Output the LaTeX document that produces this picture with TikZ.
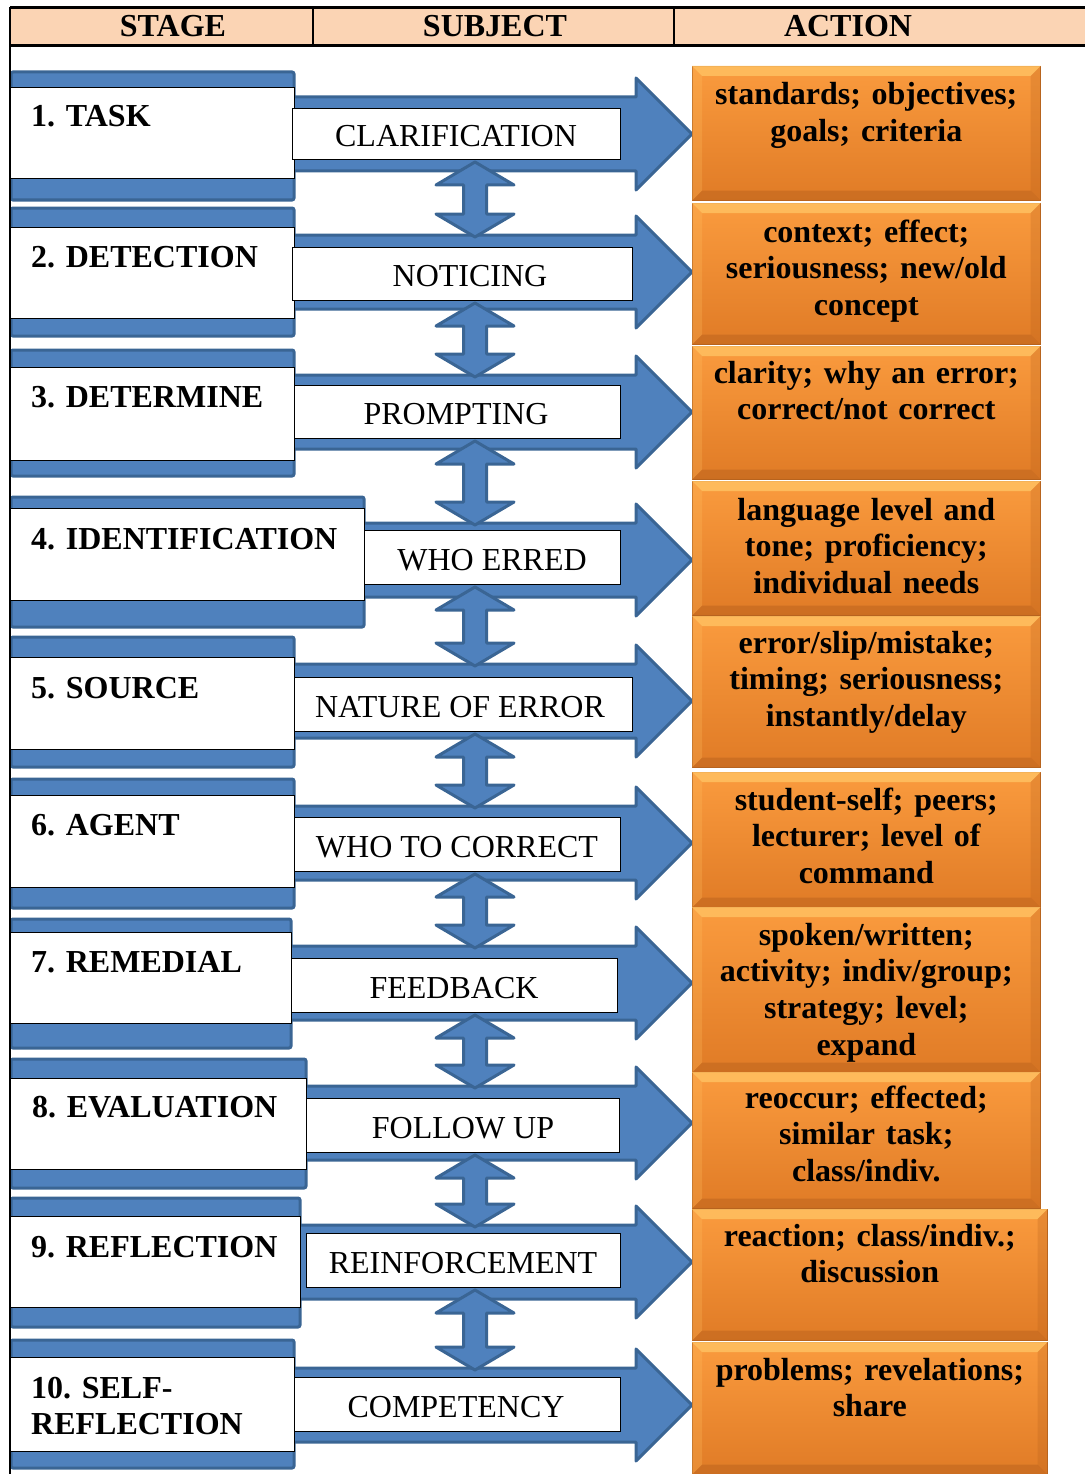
\documentclass[tikz,border=0pt]{standalone}
\usepackage{fontspec}
\setmainfont{Liberation Serif}
\frenchspacing
\definecolor{myblue}{HTML}{4F81BD}
\definecolor{bluedark}{HTML}{3A6594}
\definecolor{peach}{HTML}{FBD4B4}
\definecolor{orgtop}{HTML}{FA9B3E}
\definecolor{orgbot}{HTML}{E07B26}
\definecolor{orglight}{HTML}{FFC061}
\definecolor{orgdark}{HTML}{B5601C}
\definecolor{orgedge}{HTML}{B8651F}
\tikzset{
  bluebar/.style={fill=myblue, draw=bluedark, line width=3pt, rounded corners=2pt},
  bigarrow/.style={fill=myblue, draw=bluedark, line width=3pt, line join=round},
  stagebox/.style={fill=white, draw=black, line width=1pt, inner sep=0pt, anchor=north west},
  subjbox/.style={fill=white, draw=black, line width=1pt, inner sep=0pt, anchor=north west},
  actbox/.style={top color=orgtop, bottom color=orgbot, draw=orgedge, line width=0.6pt, inner sep=0pt, anchor=north west},
  stagetext/.style={font=\bfseries\fontsize{32}{36}\selectfont\frenchspacing, anchor=base west, inner sep=0pt, text width=330pt, align=left},
  subjtext/.style={font=\fontsize{32}{36}\selectfont, anchor=base, inner sep=0pt},
  acttext/.style={font=\bfseries\fontsize{32}{36.7}\selectfont\frenchspacing, anchor=base, inner sep=0pt, text width=345pt, align=center},
  hdrtext/.style={font=\bfseries\fontsize{32}{36}\selectfont, anchor=base, inner sep=0pt},
}
\begin{document}
\begin{tikzpicture}[x=1pt,y=-1pt]
\useasboundingbox (0,0) rectangle (1085,1474);
% header
\fill[peach] (10,8) rectangle (1085,46);
\draw[line width=3pt] (10,8) -- (1085,8);
\draw[line width=3pt] (10,46) -- (1085,46);
\draw[line width=1.5pt] (313,8) -- (313,46);
\draw[line width=1.5pt] (674,8) -- (674,46);
\node[hdrtext] (h1) at (173,37) {STAGE};
\node[hdrtext] (h2) at (495,37) {SUBJECT};
\node[hdrtext] (h3) at (848,37) {ACTION};
% blue bars and arrows
\foreach \i/\xr/\wt/\wb/\bt/\bb/\c/\jl/\jr/\jt/\jb/\ot/\ob/\orr in {
1/294/87/178/72/200/134/292/620/108/159/66/200/1040,
2/294/227/318/208/336/272/292/632/247/300/203/344/1040,
3/294/367/460/350/476/412/294/620/385/438/346/479/1040,
4/364/508/600/497/627/560/364/620/530/584/481/615/1040,
5/294/657/749/637/767/701/294/632/677/731/616/767/1040,
6/294/795/887/779/908/843/294/620/817/871/772/907/1040,
7/291/932/1023/919/1048/983/291/617/958/1012/907/1072/1040,
8/306/1078/1169/1059/1188/1123/306/619/1098/1152/1072/1208/1040,
9/300/1216/1307/1198/1327/1262/306/620/1233/1287/1209/1340/1047,
10/294/1357/1451/1340/1468/1405/294/620/1377/1431/1342/1474/1047}{
  \draw[bluebar] (11,\bt) rectangle (\xr,\bb);
  \draw[bigarrow] ({\xr-12},{\c-37}) -- (636,{\c-37}) -- (636,{\c-56}) -- (692,\c) -- (636,{\c+56}) -- (636,{\c+37}) -- ({\xr-12},{\c+37}) -- cycle;
}
% double arrows
\foreach \k/\t/\b in {1/162/237, 2/303/377, 3/441/525, 4/587/666, 5/734/808, 6/874/948, 7/1015/1088, 8/1155/1227, 9/1290/1370}{
  \draw[bigarrow] (475,\t) -- (514,{\t+23}) -- (486.5,{\t+23}) -- (486.5,{\b-23}) -- (514,{\b-23}) -- (475,\b) -- (436,{\b-23}) -- (463.5,{\b-23}) -- (463.5,{\t+23}) -- (436,{\t+23}) -- cycle;
}
% boxes
\foreach \i/\xr/\wt/\wb/\bt/\bb/\c/\jl/\jr/\jt/\jb/\ot/\ob/\orr in {
1/294/87/178/72/200/134/292/620/108/159/66/200/1040,
2/294/227/318/208/336/272/292/632/247/300/203/344/1040,
3/294/367/460/350/476/412/294/620/385/438/346/479/1040,
4/364/508/600/497/627/560/364/620/530/584/481/615/1040,
5/294/657/749/637/767/701/294/632/677/731/616/767/1040,
6/294/795/887/779/908/843/294/620/817/871/772/907/1040,
7/291/932/1023/919/1048/983/291/617/958/1012/907/1072/1040,
8/306/1078/1169/1059/1188/1123/306/619/1098/1152/1072/1208/1040,
9/300/1216/1307/1198/1327/1262/306/620/1233/1287/1209/1340/1047,
10/294/1357/1451/1340/1468/1405/294/620/1377/1431/1342/1474/1047}{
  \node[stagebox, minimum width={(\xr-10)*1pt}, minimum height={(\wb-\wt)*1pt}] (s\i) at (10,\wt) {};
  \node[subjbox, minimum width={(\jr-\jl)*1pt}, minimum height={(\jb-\jt)*1pt}] (j\i) at (\jl,\jt) {};
  \node[actbox, minimum width={(\orr-692)*1pt}, minimum height={(\ob-\ot)*1pt}] (a\i) at (692,\ot) {};
  \fill[orglight, opacity=0.85] (a\i.north west) -- (a\i.north east) -- ([xshift=-10pt,yshift=-10pt]a\i.north east) -- ([xshift=10pt,yshift=-10pt]a\i.north west) -- cycle;
  \fill[orgdark, opacity=0.45] (a\i.south west) -- (a\i.south east) -- ([xshift=-10pt,yshift=10pt]a\i.south east) -- ([xshift=10pt,yshift=10pt]a\i.south west) -- cycle;
  \fill[orgdark, opacity=0.25] (a\i.north east) -- (a\i.south east) -- ([xshift=-10pt,yshift=10pt]a\i.south east) -- ([xshift=-10pt,yshift=-10pt]a\i.north east) -- cycle;
  \fill[orglight, opacity=0.25] (a\i.north west) -- (a\i.south west) -- ([xshift=10pt,yshift=10pt]a\i.south west) -- ([xshift=10pt,yshift=-10pt]a\i.north west) -- cycle;
}
% stage texts
\node[stagetext] (t1) at ([xshift=21pt,yshift=-40pt]s1.north west) {1. TASK};
\node[stagetext] (t2) at ([xshift=21pt,yshift=-40pt]s2.north west) {2. DETECTION};
\node[stagetext] (t3) at ([xshift=21pt,yshift=-40pt]s3.north west) {3. DETERMINE};
\node[stagetext] (t4) at ([xshift=21pt,yshift=-41pt]s4.north west) {4. IDENTIFICATION};
\node[stagetext] (t5) at ([xshift=21pt,yshift=-41pt]s5.north west) {5. SOURCE};
\node[stagetext] (t6) at ([xshift=21pt,yshift=-40pt]s6.north west) {6. AGENT};
\node[stagetext] (t7) at ([xshift=21pt,yshift=-40pt]s7.north west) {7. REMEDIAL};
\node[stagetext] (t8) at ([xshift=22pt,yshift=-39pt]s8.north west) {8. EVALUATION};
\node[stagetext] (t9) at ([xshift=21pt,yshift=-41pt]s9.north west) {9. REFLECTION};
\node[stagetext] (t10) at ([xshift=21pt,yshift=-41pt]s10.north west) {10. SELF-\\REFLECTION};
% subject texts
\node[subjtext] (u1) at (456,147) {CLARIFICATION};
\node[subjtext] (u2) at (470,286) {NOTICING};
\node[subjtext] (u3) at (456,424) {PROMPTING};
\node[subjtext] (u4) at (492,570) {WHO ERRED};
\node[subjtext] (u5) at (460,717) {NATURE OF ERROR};
\node[subjtext] (u6) at (457,857) {WHO TO CORRECT};
\node[subjtext] (u7) at (454,998) {FEEDBACK};
\node[subjtext] (u8) at (463,1138) {FOLLOW UP};
\node[subjtext] (u9) at (463,1273) {REINFORCEMENT};
\node[subjtext] (u10) at (456,1417) {COMPETENCY};
% action texts
\node[acttext] (x1) at ([yshift=-39pt]a1.north) {standards; objectives;\\goals; criteria};
\node[acttext] (x2) at ([yshift=-39pt]a2.north) {context; effect;\\seriousness; new/old\\concept};
\node[acttext] (x3) at ([yshift=-37pt]a3.north) {clarity; why an error;\\correct/not correct};
\node[acttext] (x4) at ([yshift=-39pt]a4.north) {language level and\\tone; proficiency;\\individual needs};
\node[acttext] (x5) at ([yshift=-37pt]a5.north) {error/slip/mistake;\\timing; seriousness;\\instantly/delay};
\node[acttext] (x6) at ([yshift=-38pt]a6.north) {student-self; peers;\\lecturer; level of\\command};
\node[acttext] (x7) at ([yshift=-38pt]a7.north) {spoken/written;\\activity; indiv/group;\\strategy; level;\\expand};
\node[acttext] (x8) at ([yshift=-36pt]a8.north) {reoccur; effected;\\similar task;\\class/indiv.};
\node[acttext] (x9) at ([yshift=-37pt]a9.north) {reaction; class/indiv.;\\discussion};
\node[acttext] (x10) at ([yshift=-38pt]a10.north) {problems; revelations;\\share};
% left border
\draw[line width=2pt] (10,7) -- (10,1474);
\end{tikzpicture}
\end{document}
